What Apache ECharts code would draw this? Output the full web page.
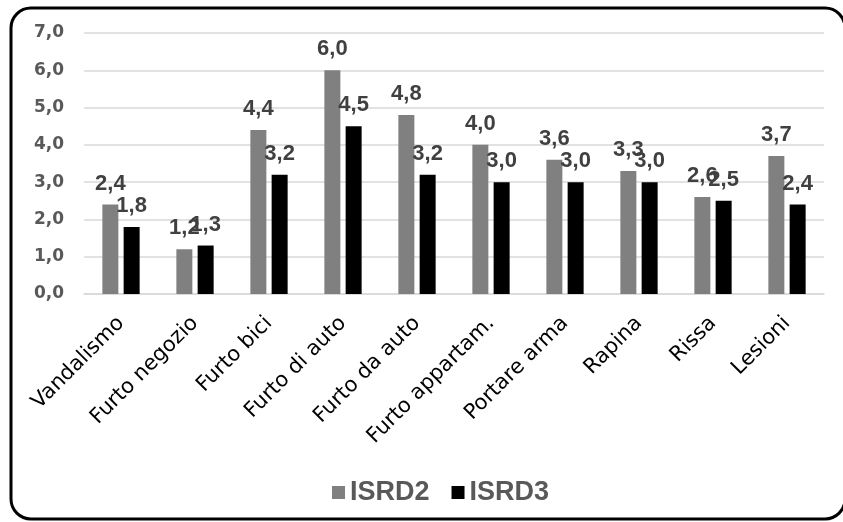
<!DOCTYPE html>
<html>
<head>
<meta charset="utf-8">
<script src="https://cdn.jsdelivr.net/npm/echarts@6/dist/echarts.min.js"></script>
<style>
  html, body { margin: 0; padding: 0; background: #fff; }
  #chart { width: 843px; height: 522px; }
</style>
</head>
<body>
<div id="chart"></div>
<script>
// Reati: confronto tra le due indagini ISRD
const categories = ['Vandalismo', 'Furto negozio', 'Furto bici', 'Furto di auto', 'Furto da auto',
  'Furto appartam.', 'Portare arma', 'Rapina', 'Rissa', 'Lesioni'];
const isrd2 = [2.4, 1.2, 4.4, 6.0, 4.8, 4.0, 3.6, 3.3, 2.6, 3.7];
const isrd3 = [1.8, 1.3, 3.2, 4.5, 3.2, 3.0, 3.0, 3.0, 2.5, 2.4];
const yTicks = { min: 0, max: 7, interval: 1 };

const fmt = v => Number(v).toFixed(1).replace('.', ',');

const valueLabel = {
  show: true,
  position: 'top',
  distance: 10,
  formatter: p => fmt(p.value),
  fontFamily: 'Liberation Sans, Arial, sans-serif',
  fontWeight: 'bold',
  fontSize: 22,
  color: '#404040'
};

const chart = echarts.init(document.getElementById('chart'), null, { renderer: 'canvas' });
chart.setOption({
  animation: false,
  backgroundColor: '#fff',
  graphic: [{
    type: 'rect',
    shape: { x: 11, y: 8, width: 834, height: 511, r: 20 },
    style: { fill: 'none', stroke: '#000', lineWidth: 3 },
    z: 100
  }],
  grid: { left: 84, right: 19, top: 33, bottom: 228, containLabel: false },
  legend: {
    data: ['ISRD2', 'ISRD3'],
    left: 327,
    top: 474,
    itemWidth: 13,
    itemHeight: 13,
    itemGap: 22,
    icon: 'rect',
    textStyle: {
      fontFamily: 'Liberation Sans, Arial, sans-serif',
      fontWeight: 'bold',
      fontSize: 27,
      color: '#595959'
    }
  },
  xAxis: {
    type: 'category',
    data: categories,
    axisLine: { lineStyle: { color: '#d9d9d9', width: 1.5 } },
    axisTick: { show: false },
    axisLabel: {
      interval: 0,
      rotate: 45,
      margin: 26,
      fontFamily: 'DejaVu Sans, sans-serif',
      fontSize: 21,
      color: '#000'
    }
  },
  yAxis: {
    type: 'value',
    min: yTicks.min,
    max: yTicks.max,
    interval: yTicks.interval,
    axisLine: { show: false },
    axisTick: { show: false },
    splitLine: { lineStyle: { color: '#d9d9d9', width: 1.5 } },
    axisLabel: {
      margin: 20,
      formatter: v => fmt(v),
      fontFamily: 'DejaVu Sans, sans-serif',
      fontWeight: 'bold',
      fontSize: 17,
      color: '#595959'
    }
  },
  series: [
    {
      name: 'ISRD2', type: 'bar', data: isrd2,
      barWidth: 16, barGap: '33%',
      itemStyle: { color: '#808080' },
      label: valueLabel
    },
    {
      name: 'ISRD3', type: 'bar', data: isrd3,
      barWidth: 16,
      itemStyle: { color: '#000000' },
      label: valueLabel
    }
  ]
});
</script>
</body>
</html>
